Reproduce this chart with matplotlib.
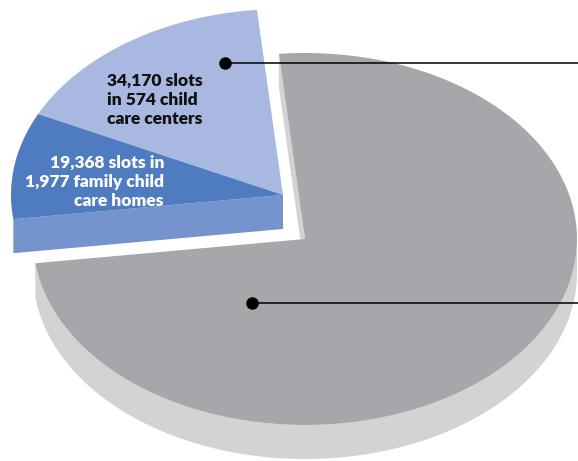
import numpy as np
import matplotlib.pyplot as plt
from matplotlib.patches import Polygon

# Child care slots (gray slice: remaining share, no label in the picture)
slot_labels = ['34,170 slots\nin 574 child\ncare centers',
               '19,368 slots in\n1,977 family child\ncare homes',
               '']
slot_values = [34170, 19368, 156000]

top_colors = ['#a8b8e0', '#4f7cc0', '#a6a7ab']
side_colors = ['#7593cc', '#7593cc', '#d2d3d5']
label_colors = ['#111111', 'white', 'black']

# pie geometry (pixel space)
cx, cy = 305, 239
rx, ry = 272, 186
depth = 34
start_angle = 95.5
explode = [(-22, -44), (-22, -44), (0, 0)]


def pt(a, ox=0, oy=0, dz=0):
    t = np.radians(a)
    return cx + ox + rx * np.cos(t), cy + oy - ry * np.sin(t) + dz


def arc(a0, a1, ox=0, oy=0, dz=0, n=200):
    t = np.linspace(a0, a1, n)
    x, y = pt(t, ox, oy, dz)
    return np.column_stack([x, y])


fig = plt.figure(figsize=(5.78, 4.61), dpi=100)
ax = fig.add_axes([0, 0, 1, 1])
ax.set_xlim(0, 578)
ax.set_ylim(461, 0)
ax.axis('off')

total = sum(slot_values)
bounds = start_angle + 360 * np.concatenate([[0], np.cumsum(slot_values)]) / total

# gray slice (drawn first)
a0, a1 = bounds[2], bounds[3]
# outer curved side, visible on the front half
s0 = max(a0, 180)
side = np.vstack([arc(s0, 360), arc(s0, 360, dz=depth)[::-1]])
ax.add_patch(Polygon(side, closed=True, fc=side_colors[2], ec='none'))
# radial cut face at the end angle (faces left)
e = pt(a1 - 360)
cut = [(cx, cy), e, (e[0], e[1] + depth), (cx, cy + depth)]
ax.add_patch(Polygon(cut, closed=True, fc=side_colors[2], ec='none'))
top = np.vstack([[cx, cy], arc(a0, a1)])
ax.add_patch(Polygon(top, closed=True, fc=top_colors[2], ec='none'))

# blue slices (exploded)
for i in range(2):
    ox, oy = explode[i]
    b0, b1 = bounds[i], bounds[i + 1]
    if i == 1:
        # front radial face at the lower edge
        e = pt(b1, ox, oy)
        c = (cx + ox, cy + oy)
        face = [c, e, (e[0], e[1] + depth), (c[0], c[1] + depth)]
        ax.add_patch(Polygon(face, closed=True, fc=side_colors[i], ec='none'))
    top = np.vstack([[cx + ox, cy + oy], arc(b0, b1, ox, oy)])
    ax.add_patch(Polygon(top, closed=True, fc=top_colors[i], ec='none'))

# labels
ax.text(107, 73, slot_labels[0], ha='left', va='top', fontsize=12.5,
        fontweight='heavy', family='Lato', color=label_colors[0],
        linespacing=1.22)
ax.text(164, 155, slot_labels[1], ha='right', va='top', fontsize=12.5,
        fontweight='heavy', family='Lato', color=label_colors[1],
        linespacing=1.22, multialignment='right')

# leader lines
for (x, y) in [(225, 63), (252, 303)]:
    ax.plot([x, 578], [y, y], color='black', lw=1.1)
    ax.plot(x, y, 'o', color='black', ms=8)

fig.savefig('out.png', dpi=100)
